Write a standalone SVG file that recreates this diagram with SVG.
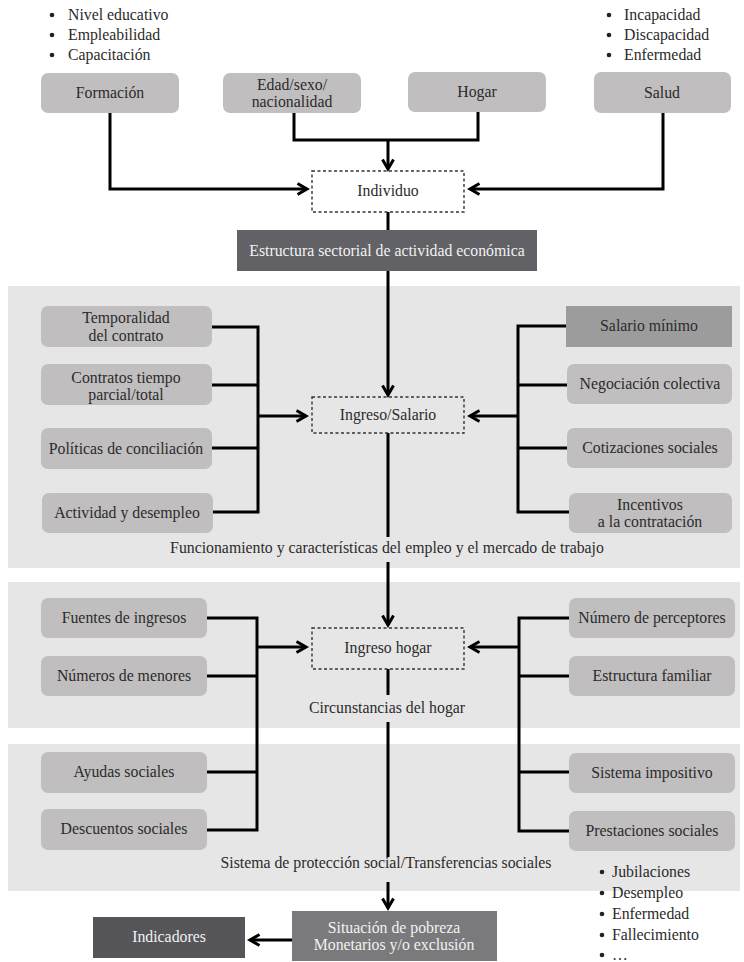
<svg xmlns="http://www.w3.org/2000/svg" width="744" height="962" viewBox="0 0 744 962">
<style>
.t{font-family:"Liberation Serif","Times New Roman",serif;font-size:15.8px;fill:#2b2b2b;text-anchor:middle}
.s{text-anchor:start}
.w{fill:#f2f2f2}
.n{fill:#c0bebe}
.c{stroke:#000;stroke-width:3;fill:none}
.d{fill:none;stroke:#333;stroke-width:1.4;stroke-dasharray:3 2.5}
.bg{fill:#e6e6e6}
.dot{fill:#222}
</style>
<defs>
<marker id="arr" viewBox="0 0 14 14" markerUnits="userSpaceOnUse" markerWidth="14" markerHeight="14" refX="11" refY="7" orient="auto">
<path d="M1.5,1.5 L11,7 L1.5,12.5" fill="none" stroke="#000" stroke-width="3"/>
</marker>
</defs>

<g id="backgrounds">
<rect class="bg" x="8" y="286" width="732" height="282"/>
<rect class="bg" x="8" y="582" width="732" height="146"/>
<rect class="bg" x="8" y="744" width="732" height="147"/>
</g>

<g id="bullets-top-left">
<circle class="dot" cx="52" cy="15" r="2.3"/><text class="t s" x="68" y="20">Nivel educativo</text>
<circle class="dot" cx="52" cy="35" r="2.3"/><text class="t s" x="68" y="40">Empleabilidad</text>
<circle class="dot" cx="52" cy="55" r="2.3"/><text class="t s" x="68" y="60">Capacitación</text>
</g>
<g id="bullets-top-right">
<circle class="dot" cx="609" cy="15" r="2.3"/><text class="t s" x="624" y="20">Incapacidad</text>
<circle class="dot" cx="609" cy="35" r="2.3"/><text class="t s" x="624" y="40">Discapacidad</text>
<circle class="dot" cx="609" cy="55" r="2.3"/><text class="t s" x="624" y="60">Enfermedad</text>
</g>

<g id="connectors">
<path class="c" d="M110,113 V189 H307" marker-end="url(#arr)"/>
<path class="c" d="M663,113 V189 H470" marker-end="url(#arr)"/>
<path class="c" d="M294,113 V140 H478 V112"/>
<path class="c" d="M388,140 V169" marker-end="url(#arr)"/>
<path class="c" d="M388,212 V230"/>
<path class="c" d="M388,271 V395" marker-end="url(#arr)"/>
<path class="c" d="M212,327 H258 V512 H213"/>
<path class="c" d="M212,385 H258"/>
<path class="c" d="M212,448 H258"/>
<path class="c" d="M258,416 H306" marker-end="url(#arr)"/>
<path class="c" d="M566,326 H518 V512 H569"/>
<path class="c" d="M567,385 H518"/>
<path class="c" d="M567,448 H518"/>
<path class="c" d="M518,416 H470" marker-end="url(#arr)"/>
<path class="c" d="M388,433 V537"/>
<path class="c" d="M388,562 V625" marker-end="url(#arr)"/>
<path class="c" d="M207,618 H257 V830 H207"/>
<path class="c" d="M207,676 H257"/>
<path class="c" d="M207,772 H257"/>
<path class="c" d="M257,647 H306" marker-end="url(#arr)"/>
<path class="c" d="M569,618 H519 V831 H569"/>
<path class="c" d="M569,676 H519"/>
<path class="c" d="M569,772 H519"/>
<path class="c" d="M519,647 H470" marker-end="url(#arr)"/>
<path class="c" d="M388,669 V695"/>
<path class="c" d="M388,722 V857"/>
<path class="c" d="M388,882 V908" marker-end="url(#arr)"/>
<path class="c" d="M292,940 H250" marker-end="url(#arr)"/>
</g>

<g id="formacion"><rect class="n" x="41" y="73" width="138" height="40" rx="7"/><text class="t" x="110" y="98">Formación</text></g>
<g id="edad"><rect class="n" x="223" y="73" width="138" height="40" rx="7"/><text class="t" x="292" y="90">Edad/sexo/</text><text class="t" x="292" y="107">nacionalidad</text></g>
<g id="hogar"><rect class="n" x="408" y="72" width="138" height="40" rx="7"/><text class="t" x="477" y="97">Hogar</text></g>
<g id="salud"><rect class="n" x="594" y="72" width="137" height="41" rx="7"/><text class="t" x="662" y="98">Salud</text></g>

<g id="individuo"><rect class="d" x="312" y="171" width="152" height="41" fill="#fff"/><text class="t" x="388" y="196">Individuo</text></g>
<g id="estructura-sectorial"><rect x="237" y="230" width="300" height="41" fill="#616166"/><text class="t w" x="387" y="256">Estructura sectorial de actividad económica</text></g>

<g id="temporalidad"><rect class="n" x="41" y="306" width="171" height="41" rx="7"/><text class="t" x="126" y="323">Temporalidad</text><text class="t" x="126" y="341">del contrato</text></g>
<g id="contratos"><rect class="n" x="41" y="364" width="171" height="41" rx="7"/><text class="t" x="126" y="383">Contratos tiempo</text><text class="t" x="126" y="400">parcial/total</text></g>
<g id="politicas"><rect class="n" x="41" y="428" width="171" height="41" rx="7"/><text class="t" x="126" y="454">Políticas de conciliación</text></g>
<g id="actividad"><rect class="n" x="42" y="493" width="171" height="40" rx="7"/><text class="t" x="127" y="518">Actividad y desempleo</text></g>

<g id="ingreso-salario"><rect class="d" x="312" y="397" width="152" height="36"/><text class="t" x="388" y="420">Ingreso/Salario</text></g>

<g id="salario-minimo"><rect x="566" y="306" width="166" height="41" fill="#9d9c9c"/><text class="t" x="649" y="331">Salario mínimo</text></g>
<g id="negociacion"><rect class="n" x="567" y="364" width="165" height="40" rx="7"/><text class="t" x="650" y="389">Negociación colectiva</text></g>
<g id="cotizaciones"><rect class="n" x="567" y="428" width="165" height="40" rx="7"/><text class="t" x="650" y="453">Cotizaciones sociales</text></g>
<g id="incentivos"><rect class="n" x="569" y="493" width="163" height="40" rx="7"/><text class="t" x="650" y="510">Incentivos</text><text class="t" x="650" y="527">a la contratación</text></g>

<text class="t" x="387" y="553">Funcionamiento y características del empleo y el mercado de trabajo</text>

<g id="ingreso-hogar"><rect class="d" x="312" y="628" width="152" height="41"/><text class="t" x="388" y="653">Ingreso hogar</text></g>
<g id="fuentes"><rect class="n" x="41" y="598" width="166" height="40" rx="7"/><text class="t" x="124" y="623">Fuentes de ingresos</text></g>
<g id="menores"><rect class="n" x="41" y="656" width="166" height="40" rx="7"/><text class="t" x="124" y="681">Números de menores</text></g>
<g id="perceptores"><rect class="n" x="569" y="598" width="166" height="40" rx="7"/><text class="t" x="652" y="623">Número de perceptores</text></g>
<g id="estructura-familiar"><rect class="n" x="569" y="656" width="166" height="40" rx="7"/><text class="t" x="652" y="681">Estructura familiar</text></g>

<text class="t" x="387" y="713">Circunstancias del hogar</text>

<g id="ayudas"><rect class="n" x="41" y="752" width="166" height="41" rx="7"/><text class="t" x="124" y="777">Ayudas sociales</text></g>
<g id="descuentos"><rect class="n" x="41" y="809" width="166" height="41" rx="7"/><text class="t" x="124" y="834">Descuentos sociales</text></g>
<g id="impositivo"><rect class="n" x="569" y="753" width="166" height="40" rx="7"/><text class="t" x="652" y="778">Sistema impositivo</text></g>
<g id="prestaciones"><rect class="n" x="569" y="811" width="166" height="40" rx="7"/><text class="t" x="652" y="836">Prestaciones sociales</text></g>

<text class="t" x="386" y="868">Sistema de protección social/Transferencias sociales</text>

<g id="bullets-prestaciones">
<circle class="dot" cx="602" cy="872" r="2.3"/><text class="t s" x="612" y="877">Jubilaciones</text>
<circle class="dot" cx="602" cy="893" r="2.3"/><text class="t s" x="612" y="898">Desempleo</text>
<circle class="dot" cx="602" cy="914" r="2.3"/><text class="t s" x="612" y="919">Enfermedad</text>
<circle class="dot" cx="602" cy="935" r="2.3"/><text class="t s" x="612" y="940">Fallecimiento</text>
<circle class="dot" cx="602" cy="955" r="2.3"/><text class="t s" x="612" y="960">…</text>
</g>

<g id="situacion"><rect x="292" y="911" width="205" height="50" fill="#7a7a7c"/><text class="t w" x="394" y="933">Situación de pobreza</text><text class="t w" x="394" y="950">Monetarios y/o exclusión</text></g>
<g id="indicadores"><rect x="93" y="917" width="152" height="41" fill="#55555a"/><text class="t w" x="169" y="942">Indicadores</text></g>
</svg>
